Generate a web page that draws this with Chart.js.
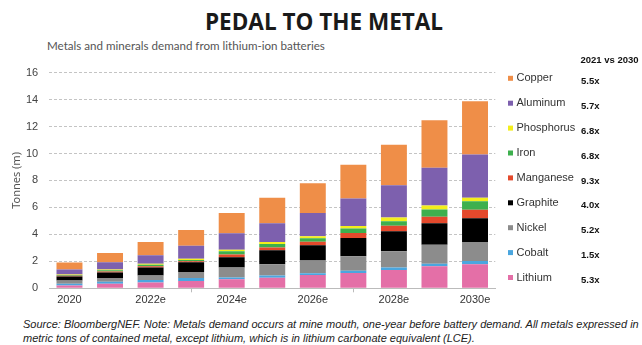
<!DOCTYPE html>
<html>
<head>
<meta charset="utf-8">
<script src="https://cdn.jsdelivr.net/npm/chart.js@4.4.1/dist/chart.umd.min.js"></script>
<style>
  html, body { margin: 0; padding: 0; background: #fff; }
  #wrap { position: relative; width: 642px; height: 345px; overflow: hidden; }
  #titulo { position: absolute; left: 0; width: 648px; top: 6px; text-align: center;
    font-family: "Open Sans", sans-serif; font-weight: 700; font-size: 22.5px; color: #1a1a1a; }
  #subtitulo { position: absolute; left: 47px; top: 39px; font-family: Lato, sans-serif;
    font-size: 11.6px; color: #555; }
  #nota { position: absolute; left: 23px; top: 318px; font-family: "Liberation Sans", Arial, sans-serif;
    font-style: italic; font-size: 11px; line-height: 13.5px; color: #222; white-space: nowrap; }
  #caja { position: absolute; left: 0; top: 55px; width: 642px; height: 255px; }
</style>
</head>
<body>
<div id="wrap">
  <div id="titulo">PEDAL TO THE METAL</div>
  <div id="subtitulo">Metals and minerals demand from lithium-ion batteries</div>
  <div id="caja"><canvas id="grafico"></canvas></div>
  <div id="nota">Source: BloombergNEF. Note: Metals demand occurs at mine mouth, one-year before battery demand. All metals expressed in<br>metric tons of contained metal, except lithium, which is in lithium carbonate equivalent (LCE).</div>
</div>
<script>
// demanda anual (millones de toneladas), de abajo hacia arriba en la pila
const anios = ['2020', '2021', '2022e', '2023e', '2024e', '2025e', '2026e', '2027e', '2028e', '2029e', '2030e'];
const litio     = [0.20, 0.33, 0.43, 0.54, 0.67, 0.79, 0.98, 1.14, 1.36, 1.64, 1.79];
const cobalto   = [0.13, 0.15, 0.19, 0.22, 0.14, 0.16, 0.14, 0.17, 0.19, 0.19, 0.23];
const niquel    = [0.25, 0.28, 0.33, 0.45, 0.74, 0.84, 0.95, 1.07, 1.19, 1.40, 1.41];
const grafito   = [0.30, 0.42, 0.60, 0.72, 0.76, 1.04, 1.12, 1.36, 1.50, 1.60, 1.76];
const manganeso = [0.05, 0.07, 0.08, 0.07, 0.19, 0.19, 0.26, 0.36, 0.40, 0.48, 0.64];
const hierro    = [0.06, 0.09, 0.12, 0.10, 0.24, 0.27, 0.26, 0.33, 0.34, 0.54, 0.62];
const fosforo   = [0.04, 0.05, 0.08, 0.10, 0.12, 0.14, 0.15, 0.19, 0.28, 0.29, 0.26];
const aluminio  = [0.36, 0.55, 0.62, 0.95, 1.23, 1.40, 1.73, 2.04, 2.38, 2.81, 3.22];
const cobre     = [0.52, 0.68, 0.98, 1.17, 1.50, 1.88, 2.20, 2.50, 3.00, 3.52, 3.95];

const nombres = ['Lithium', 'Cobalt', 'Nickel', 'Graphite', 'Manganese', 'Iron', 'Phosphorus', 'Aluminum', 'Copper'];
const crecimiento = ['5.3x', '1.5x', '5.2x', '4.0x', '9.3x', '6.8x', '6.8x', '5.7x', '5.5x'];
const colores = ['#E46FA7', '#4AA6DF', '#8C8C8C', '#000000', '#E4492C', '#3EB04E', '#F3EE1C', '#7D60AE', '#EF8E48'];
const series = [litio, cobalto, niquel, grafito, manganeso, hierro, fosforo, aluminio, cobre];

// leyenda a la derecha con la columna "2021 vs 2030"
const leyendaLateral = {
  id: 'leyendaLateral',
  afterDraw(chart) {
    const ctx = chart.ctx;
    const y0 = 23.3, paso = 24.9;
    ctx.save();
    ctx.textBaseline = 'middle';
    ctx.fillStyle = '#111';
    ctx.font = 'bold 9.5px "Liberation Sans", Arial, sans-serif';
    ctx.fillText('2021 vs 2030', 580.5, 5.7);
    const n = chart.data.datasets.length;
    for (let i = 0; i < n; i++) {
      const ds = chart.data.datasets[n - 1 - i];
      const y = y0 + i * paso;
      ctx.fillStyle = ds.backgroundColor;
      ctx.fillRect(508, y - 2.5, 5, 5);
      ctx.fillStyle = '#333';
      ctx.font = '11px "Liberation Sans", Arial, sans-serif';
      ctx.fillText(ds.label, 516.5, y);
      ctx.fillStyle = '#111';
      ctx.font = 'bold 9.5px "Liberation Sans", Arial, sans-serif';
      ctx.fillText(crecimiento[n - 1 - i], 581, y + 3);
    }
    ctx.restore();
  }
};

const ctx = document.getElementById('grafico').getContext('2d');
new Chart(ctx, {
  type: 'bar',
  data: {
    labels: anios,
    datasets: series.map((d, i) => ({
      label: nombres[i], data: d, backgroundColor: colores[i],
      barPercentage: 0.64, categoryPercentage: 1
    }))
  },
  options: {
    responsive: true, maintainAspectRatio: false, animation: false,
    layout: { padding: { top: 10, right: 146.7, left: 10, bottom: 0 } },
    plugins: { legend: { display: false }, tooltip: { enabled: false } },
    scales: {
      x: {
        stacked: true,
        afterFit(scale) { scale.height = 21.7; },
        grid: { drawOnChartArea: false, drawTicks: true, tickLength: 4, color: '#bbb', offset: true },
        border: { color: '#bbb' },
        ticks: { autoSkip: true, maxTicksLimit: 6, maxRotation: 0, padding: 1, color: '#333',
          font: { family: '"Liberation Sans", Arial, sans-serif', size: 11 } }
      },
      y: {
        stacked: true, min: 0, max: 16,
        afterFit(scale) { scale.width = 39.2; },
        grid: { color: '#c4c4c4', drawTicks: false },
        border: { display: false, dash: [3, 2] },
        ticks: { stepSize: 2, padding: 11, color: '#444',
          font: { family: '"Liberation Sans", Arial, sans-serif', size: 11 } },
        title: { display: true, text: 'Tonnes (m)', color: '#555', padding: { top: 0, bottom: 0 },
          font: { family: '"Noto Sans", sans-serif', size: 11 } }
      }
    }
  },
  plugins: [leyendaLateral]
});
</script>
</body>
</html>
